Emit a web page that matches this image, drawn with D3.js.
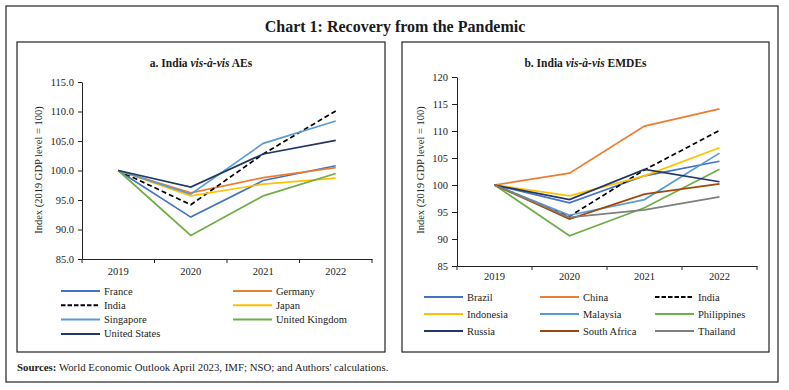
<!DOCTYPE html>
<html><head><meta charset="utf-8">
<script src="https://cdn.jsdelivr.net/npm/d3@7"></script>
<style>
body{margin:0;background:#fff;}
svg{display:block;font-family:"Liberation Serif","DejaVu Serif",serif;}
</style></head>
<body><svg id="c" width="789" height="390"></svg>
<script>
// ---------- data ----------
const years = ["2019", "2020", "2021", "2022"];

// Panel a: India vis-à-vis AEs
const aeSeries = ["France", "Germany", "India", "Japan", "Singapore", "United Kingdom", "United States"];
const aeFrance   = [100, 92.1, 98.3, 100.8];
const aeGermany  = [100, 96.2, 98.8, 100.5];
const aeIndia    = [100, 94.2, 102.8, 110.1];
const aeJapan    = [100, 95.7, 97.7, 98.7];
const aeSingapore= [100, 96.0, 104.6, 108.4];
const aeUK       = [100, 89.0, 95.7, 99.5];
const aeUS       = [100, 97.2, 102.8, 105.1];
const aeTicks = [85, 90, 95, 100, 105, 110, 115];

// Panel b: India vis-à-vis EMDEs
const emSeries = ["Brazil", "China", "India", "Indonesia", "Malaysia", "Philippines", "Russia", "South Africa", "Thailand"];
const emBrazil      = [100, 96.7, 101.7, 104.4];
const emChina       = [100, 102.2, 110.9, 114.1];
const emIndia       = [100, 94.2, 102.8, 110.1];
const emIndonesia   = [100, 98.0, 101.7, 106.9];
const emMalaysia    = [100, 94.4, 97.3, 105.9];
const emPhilippines = [100, 90.6, 95.8, 102.9];
const emRussia      = [100, 97.3, 102.9, 100.6];
const emSouthAfrica = [100, 93.7, 98.3, 100.2];
const emThailand    = [100, 94.0, 95.4, 97.8];
const emTicks = [85, 90, 95, 100, 105, 110, 115, 120];

const colors = {
  "France": "#4472C4", "Germany": "#ED7D31", "India": "#000000", "Japan": "#FFC000",
  "Singapore": "#5B9BD5", "United Kingdom": "#70AD47", "United States": "#1F3864",
  "Brazil": "#4472C4", "China": "#ED7D31", "Indonesia": "#FFC000", "Malaysia": "#5B9BD5",
  "Philippines": "#70AD47", "Russia": "#1F3864", "South Africa": "#9E480E", "Thailand": "#7F7F7F"
};

const aeValues = [aeFrance, aeGermany, aeIndia, aeJapan, aeSingapore, aeUK, aeUS];
const emValues = [emBrazil, emChina, emIndia, emIndonesia, emMalaysia, emPhilippines, emRussia, emSouthAfrica, emThailand];

// ---------- drawing ----------
const svg = d3.select("#c");

svg.append("rect").attr("x", 6).attr("y", 6).attr("width", 772).attr("height", 376)
  .attr("fill", "none").attr("stroke", "#222").attr("stroke-width", 1.2);

svg.append("text").attr("x", 395).attr("y", 32).attr("text-anchor", "middle")
  .attr("font-size", 16).attr("font-weight", "bold").attr("fill", "#1a1a1a")
  .text("Chart 1: Recovery from the Pandemic");

function panel(cfg) {
  const g = svg.append("g");
  g.append("rect").attr("x", cfg.box[0]).attr("y", cfg.box[1]).attr("width", cfg.box[2]).attr("height", cfg.box[3])
    .attr("fill", "none").attr("stroke", "#222").attr("stroke-width", 1.2);

  const t = g.append("text").attr("x", cfg.box[0] + cfg.box[2] / 2).attr("y", 67)
    .attr("text-anchor", "middle").attr("font-size", 11.5).attr("font-weight", "bold").attr("fill", "#1a1a1a");
  t.append("tspan").text(cfg.titleA);
  t.append("tspan").attr("font-style", "italic").text("vis-à-vis");
  t.append("tspan").text(cfg.titleB);

  const x = d3.scaleBand().domain(years).range([cfg.x0, cfg.x1]);
  const y = d3.scaleLinear().domain([cfg.ticks[0], cfg.ticks[cfg.ticks.length - 1]]).range([cfg.y0, cfg.y1]);

  // y axis
  const ya = g.append("g").attr("transform", `translate(${cfg.x0},0)`)
    .call(d3.axisLeft(y).tickValues(cfg.ticks).tickFormat(cfg.fmt).tickSize(cfg.tick).tickSizeOuter(0).tickPadding(4));
  ya.selectAll("text").attr("font-size", 10.5).attr("font-family", "Liberation Serif").attr("fill", "#222");
  ya.select(".domain").attr("stroke", "#222");
  ya.selectAll(".tick line").attr("stroke", "#222");

  // x axis
  const xa = g.append("g").attr("transform", `translate(0,${cfg.y0})`)
    .call(d3.axisBottom(x).tickSize(0).tickSizeOuter(0).tickPadding(cfg.xpad));
  xa.selectAll("text").attr("font-size", 10.5).attr("font-family", "Liberation Serif").attr("fill", "#222");
  xa.select(".domain").attr("stroke", "#222");
  const bounds = years.map(d => x(d)).concat([cfg.x1]);
  xa.selectAll(".bt").data(bounds).enter().append("line").attr("class", "bt")
    .attr("x1", d => d).attr("x2", d => d).attr("y1", 0).attr("y2", 4).attr("stroke", "#222");

  // y title
  g.append("text").attr("transform", `translate(${cfg.ytx},${cfg.yty}) rotate(-90)`)
    .attr("text-anchor", "middle").attr("font-size", 10.5).attr("fill", "#222")
    .text("Index (2019 GDP level = 100)");

  const line = d3.line().x((d, i) => x(years[i]) + x.bandwidth() / 2).y(d => y(d));
  cfg.names.forEach((n, k) => {
    g.append("path").datum(cfg.values[k]).attr("d", line).attr("fill", "none")
      .attr("stroke", colors[n]).attr("stroke-width", 1.7)
      .attr("stroke-dasharray", n === "India" ? "5,3" : null);
  });

  // legend
  cfg.names.forEach((n, k) => {
    const col = k % cfg.cols, row = Math.floor(k / cfg.cols);
    const lx = cfg.legX[col], ly = cfg.legY0 + row * cfg.legDy;
    g.append("line").attr("x1", lx).attr("x2", lx + 39).attr("y1", ly).attr("y2", ly)
      .attr("stroke", colors[n]).attr("stroke-width", 2)
      .attr("stroke-dasharray", n === "India" ? "4.5,2" : null);
    g.append("text").attr("x", lx + 43).attr("y", ly + 3.5).attr("font-size", 10.5).attr("fill", "#222").text(n);
  });
}

panel({
  box: [17, 42, 368, 310], titleA: "a. India ", titleB: " AEs",
  x0: 82, x1: 372, y0: 259, y1: 82, ticks: aeTicks, fmt: d3.format(".1f"), tick: 4, xpad: 9,
  ytx: 42, yty: 170, names: aeSeries, values: aeValues,
  cols: 2, legX: [61, 233], legY0: 291, legDy: 14.3
});

panel({
  box: [402, 42, 367, 310], titleA: "b. India ", titleB: " EMDEs",
  x0: 457, x1: 757, y0: 266, y1: 77, ticks: emTicks, fmt: d3.format("d"), tick: 5, xpad: 7,
  ytx: 424, yty: 170, names: emSeries, values: emValues,
  cols: 3, legX: [424, 540, 655], legY0: 297, legDy: 17
});

const s = svg.append("text").attr("x", 17).attr("y", 371).attr("font-size", 10.8).attr("fill", "#222");
s.append("tspan").attr("font-weight", "bold").text("Sources:");
s.append("tspan").text(" World Economic Outlook April 2023, IMF; NSO; and Authors' calculations.");
</script>
</body></html>
